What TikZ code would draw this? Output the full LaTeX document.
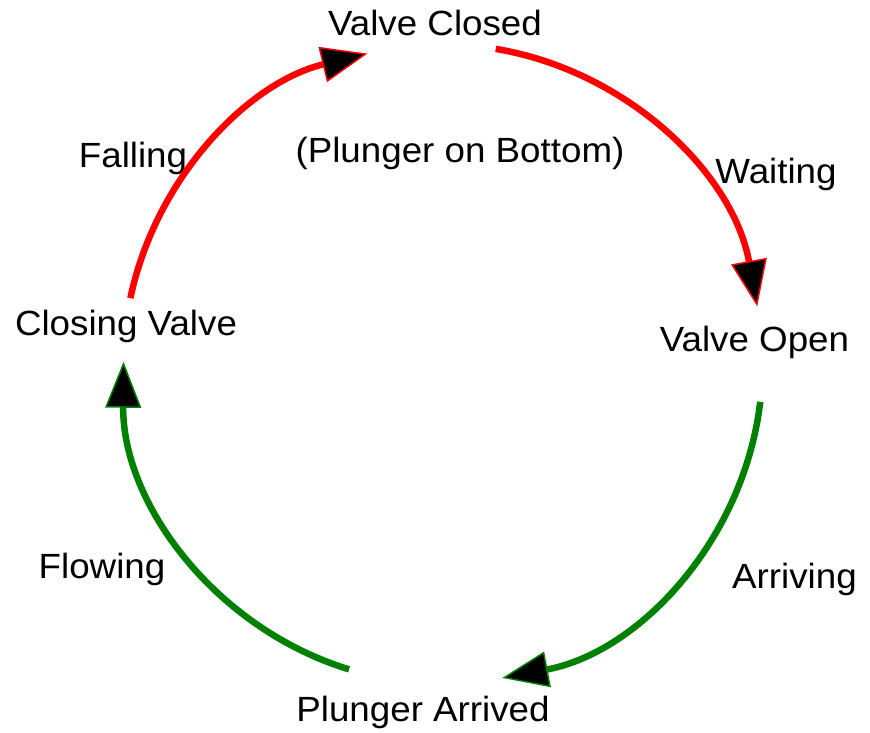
\documentclass[tikz,border=0pt]{standalone}
\usepackage{fontspec}
\setmainfont{Liberation Sans}[FakeStretch=1.05]
\usetikzlibrary{arrows.meta}
\definecolor{arcred}{RGB}{255,0,0}
\definecolor{arcgreen}{RGB}{0,128,0}
\tikzset{
  lbl/.style={anchor=base, inner sep=0pt, font=\fontsize{35}{40}\selectfont},
  tipblack/.style={-{Triangle[length=46pt 0 0,width=36pt 0,fill=black,line width=1.5pt]}},
  arcstyle/.style={line width=6.5pt, line join=miter},
}
\begin{document}
\begin{tikzpicture}[x=1pt,y=1pt]
\useasboundingbox (0,0) rectangle (870,732);
\coordinate (c) at (443,368);
\node[lbl] (vc) at (435,696) {Valve Closed};
\node[lbl] (pb) at (460,569.3) {(Plunger on Bottom)};
\node[lbl] (cv) at (126,396) {Closing Valve};
\node[lbl] (vo) at (754.5,381) {Valve Open};
\node[lbl] (pa) at (423,11) {Plunger Arrived};
\node[lbl] (wt) at (776,548.3) {Waiting};
\node[lbl] (fa) at (133,564) {Falling};
\node[lbl] (fl) at (102,153.3) {Flowing};
\node[lbl] (ar) at (794.5,143.3) {Arriving};
\draw[arcstyle, arcred, tipblack] (c) ++(168.1:319.5) arc[start angle=168.1, end angle=103.7, radius=319.5];
\draw[arcstyle, arcred, tipblack] (c) ++(80.5:319.5) arc[start angle=80.5, end angle=10.4, radius=319.5];
\draw[arcstyle, arcgreen, tipblack] (c) ++(-6.8:319.5) arc[start angle=-6.8, end angle=-79.3, radius=319.5];
\draw[arcstyle, arcgreen, tipblack] (c) ++(252.9:319.5) arc[start angle=252.9, end angle=179.6, radius=319.5];
\end{tikzpicture}
\end{document}
